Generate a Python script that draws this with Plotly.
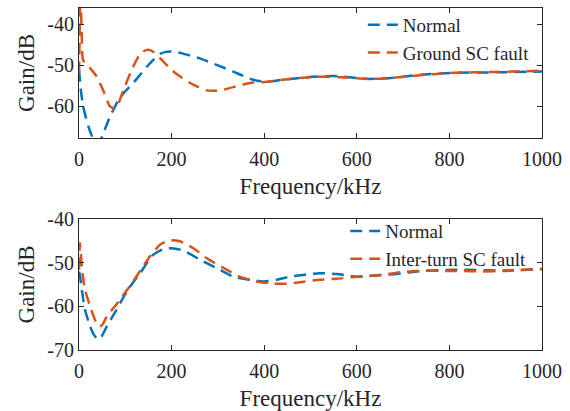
import plotly.graph_objects as go
from plotly.subplots import make_subplots

# ---- Top panel: Normal vs Ground SC fault ----
top_normal_f = [0, 4, 9, 15, 20, 27, 33, 38, 44, 50, 58, 67, 85, 100, 117, 132, 146, 160, 175, 188,
                200, 220, 261, 300, 333, 376, 405, 440, 505, 550, 628, 680, 737, 808, 900, 1000]
top_normal_v = [-51, -56, -60, -62.8, -64.8, -67, -68.7, -69.3, -68.8, -67.3, -65, -62.5, -58.5, -56.3,
                -54.3, -52.3, -50.4, -48.7, -47.2, -46.7, -46.6, -47, -48.3, -50, -51.5, -53.5, -54,
                -53.5, -52.8, -52.6, -53.3, -53, -52.3, -51.8, -51.7, -51.5]

top_fault_f = [0, 1, 2, 3, 4, 6, 9, 16, 25, 38, 52, 67, 77, 85, 96, 117, 130, 139, 150, 162, 175, 204,
               240, 276, 294, 310, 333, 369, 405, 440, 505, 550, 628, 680, 737, 808, 900, 1000]
top_fault_v = [-52, -46, -38, -33, -35, -43, -48.8, -49.5, -50.8, -52.7, -56, -60, -60.5, -59.3, -56,
               -50.3, -47.6, -46.6, -46.2, -46.8, -48.2, -51.5, -54.3, -56.1, -56.2, -56, -55.3, -54.3,
               -54, -53.5, -52.8, -52.8, -53.3, -53, -52.4, -51.8, -51.6, -51.3]

# ---- Bottom panel: Normal vs Inter-turn SC fault ----
bot_normal_f = [0, 2, 6, 13, 24, 32, 38, 42, 48, 60, 81, 103, 132, 160, 182, 200, 225, 261, 297, 333,
                369, 398, 427, 455, 484, 520, 556, 600, 650, 686, 729, 816, 917, 1000]
bot_normal_v = [-52, -53, -56.2, -60.8, -64.6, -66.5, -67.3, -67.5, -67, -64.6, -60.8, -56.6, -52.4,
                -48.2, -46.9, -46.7, -47.2, -49.3, -51.2, -53.2, -53.9, -54.3, -53.9, -53.2, -52.8,
                -52.4, -52.6, -53.2, -52.8, -52.6, -52.0, -51.6, -51.8, -51.5]

bot_fault_f = [0, 1, 2, 4, 7, 13, 24, 38, 45, 52, 60, 81, 100, 117, 135, 153, 175, 196, 218, 247, 276,
               312, 347, 383, 419, 448, 477, 520, 556, 600, 650, 686, 729, 816, 873, 917, 1000]
bot_fault_v = [-51.6, -48, -45.5, -48, -52, -56.2, -60, -63.9, -64.6, -64, -62.3, -59.5, -56.8, -54.3,
               -51.4, -48.6, -45.9, -44.9, -45.1, -46.7, -49, -51.2, -53.2, -54.3, -54.8, -54.8, -54.5,
               -53.9, -53.7, -53.2, -52.9, -52.3, -51.9, -51.9, -52.0, -51.9, -51.4]

x_ticks = [0, 200, 400, 600, 800, 1000]
top_y_ticks = [-40, -50, -60]
bot_y_ticks = [-40, -50, -60, -70]

BLUE = "#0072BD"
ORANGE = "#D95319"
AX = "#262626"
FONT = "Liberation Serif"

fig = make_subplots(rows=2, cols=1, vertical_spacing=0.0)

def add(f, v, name, color, row, legend):
    fig.add_trace(go.Scatter(x=f, y=v, mode="lines", name=name,
                             line=dict(color=color, width=2.5, dash="12px,7px", shape="spline", smoothing=0.6),
                             legend=legend), row=row, col=1)

add(top_normal_f, top_normal_v, "Normal", BLUE, 1, "legend")
add(top_fault_f, top_fault_v, "Ground SC fault", ORANGE, 1, "legend")
add(bot_normal_f, bot_normal_v, "Normal", BLUE, 2, "legend2")
add(bot_fault_f, bot_fault_v, "Inter-turn SC fault", ORANGE, 2, "legend2")

axis_common = dict(showline=True, linecolor=AX, linewidth=1, mirror="ticks", ticks="inside",
                   ticklen=5, tickcolor=AX, tickwidth=1, showgrid=False, zeroline=False,
                   automargin=False,
                   tickfont=dict(family=FONT, size=20, color=AX),
                   title_font=dict(family=FONT, size=23, color=AX))

fig.update_xaxes(**axis_common, range=[0, 1000], tickvals=x_ticks,
                 ticktext=[str(t) for t in x_ticks], ticklabelstandoff=3,
                 title_text="Frequency/kHz", title_standoff=8)
fig.update_yaxes(**axis_common, title_text="Gain/dB", title_standoff=6)
fig.update_yaxes(range=[-67.7, -36], tickvals=top_y_ticks,
                 ticktext=[str(t) for t in top_y_ticks], row=1, col=1)
fig.update_yaxes(range=[-70, -40], tickvals=bot_y_ticks,
                 ticktext=[str(t) for t in bot_y_ticks], row=2, col=1)

fig.update_layout(
    width=570, height=411,
    margin=dict(l=79, r=28, t=8, b=61, autoexpand=False),
    paper_bgcolor="white", plot_bgcolor="white",
    yaxis=dict(domain=[0.62, 1.0]),
    yaxis2=dict(domain=[0.0, 0.383]),
    legend=dict(x=0.613, y=1.006, xanchor="left", yanchor="top", bgcolor="rgba(0,0,0,0)",
                font=dict(family=FONT, size=19, color=AX), tracegroupgap=0),
    legend2=dict(x=0.575, y=0.403, xanchor="left", yanchor="top", bgcolor="rgba(0,0,0,0)",
                 font=dict(family=FONT, size=19, color=AX), tracegroupgap=0),
    showlegend=True,
)

fig.write_html("out.html", config={"displayModeBar": False},
               post_script="document.body.style.margin='0';")
